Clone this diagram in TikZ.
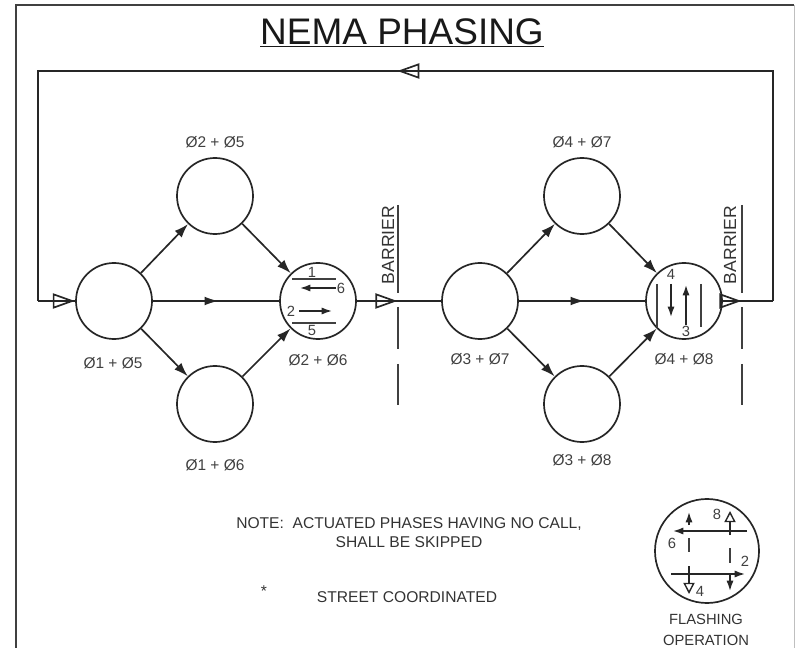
\documentclass[tikz,border=0pt]{standalone}
\usepackage{fontspec}
\setmainfont{Liberation Sans}
\usetikzlibrary{arrows.meta,decorations.markings}
\tikzset{
  phase/.style={draw=black!85,circle,line width=1.2pt,minimum size=1.9cm,inner sep=0pt},
  flash/.style={draw=black!85,circle,line width=1.2pt,minimum size=2.6cm,inner sep=0pt},
  wire/.style={draw=black!85,line width=1.2pt},
  openmid/.style={postaction={decorate},decoration={markings,mark=at position #1 with {\arrow[black!85,line width=1.2pt]{Triangle[open,length=5.5mm,width=3.8mm]}}}},
  solidmid/.style={postaction={decorate},decoration={markings,mark=at position #1 with {\arrow[black!85]{Latex[length=3.5mm,width=2.2mm]}}}},
  thin tip/.style={draw=black!85,line width=1.1pt,-{Latex[length=2.6mm,width=1.8mm]}},
  open tip/.style={draw=black!85,line width=1pt,-{Triangle[open,length=2.8mm,width=2.8mm]}},
  bar/.style={draw=black!75,line width=1.2pt},
  phlabel/.style={font=\fontsize{11}{13}\selectfont,text=black!75,inner sep=0pt},
  digit/.style={font=\fontsize{10.5}{12}\selectfont,text=black!75,inner sep=0pt},
  note/.style={font=\fontsize{11.1}{13.4}\selectfont,text=black!80,align=center,inner sep=0pt}
}
\begin{document}
\begin{tikzpicture}[>=Latex,x=0.025cm,y=-0.025cm]
\useasboundingbox (0,0) rectangle (795,648);
% frame
\coordinate (fa) at (16,648);
\coordinate (fb) at (16,5);
\coordinate (fc) at (794,5);
\coordinate (fd) at (794,648);
\draw[wire,black!75] (fa)--(fb)--(fc);
\draw[black!25,line width=0.6pt] (fc)--(fd);
\node[font=\fontsize{26.3}{30}\selectfont,text=black!90,inner sep=0pt] (title) at (402,33) {\underline{NEMA PHASING}};
% left group
\node[phase] (p15) at (114,301) {};
\node[phase] (p25) at (215,196) {};
\node[phase] (p16) at (215,404) {};
\node[phase] (p26) at (318,301) {};
% right group
\node[phase] (p37) at (480,301) {};
\node[phase] (p47) at (582,196) {};
\node[phase] (p38) at (582,404) {};
\node[phase] (p48) at (684,301) {};
\node[flash] (fl) at (707,551) {};
% phase labels
\node[phlabel] (l15) at (113,363) {Ø1 + Ø5};
\node[phlabel] (l25) at (215,142) {Ø2 + Ø5};
\node[phlabel] (l16) at (215,465) {Ø1 + Ø6};
\node[phlabel] (l26) at (318,360) {Ø2 + Ø6};
\node[phlabel] (l37) at (480,359) {Ø3 + Ø7};
\node[phlabel] (l47) at (582,142) {Ø4 + Ø7};
\node[phlabel] (l38) at (582,460) {Ø3 + Ø8};
\node[phlabel] (l48) at (684,359) {Ø4 + Ø8};
% connectors
\foreach \a/\b in {p15/p25,p15/p16,p25/p26,p16/p26,p37/p47,p37/p38,p47/p48,p38/p48}
  \draw[wire,-{Latex[length=3.5mm,width=2.4mm]}] (\a)--(\b);
\draw[wire,solidmid=0.52] (p15)--(p26);
\draw[wire,solidmid=0.52] (p37)--(p48);
\draw[wire,openmid=0.48] (p26)--(p37);
% return loop
\coordinate (ra) at (773,301);
\coordinate (rb) at (773,71);
\coordinate (rc) at (38,71);
\coordinate (rd) at (38,301);
\coordinate (rm) at (435,71);
\draw[wire,openmid=0.37] (p48)--(ra);
\draw[wire] (ra)--(rb)--(rm);
\draw[wire,openmid=0.06] (rm)--(rc)--(rd);
\draw[wire,openmid=0.99] (rd)--(p15);
% barriers
\node[rotate=90,font=\fontsize{12.5}{14}\selectfont,text=black!80,inner sep=0pt] (b1) at (388,245) {BARRIER};
\node[rotate=90,font=\fontsize{12.5}{14}\selectfont,text=black!80,inner sep=0pt] (b2) at (730,245) {BARRIER};
\foreach \x/\n in {398/ba,742/bb}{
  \coordinate (\n1) at (\x,205); \coordinate (\n2) at (\x,293);
  \coordinate (\n3) at (\x,307); \coordinate (\n4) at (\x,349);
  \coordinate (\n5) at (\x,364); \coordinate (\n6) at (\x,405);
  \draw[bar] (\n1)--(\n2); \draw[bar] (\n3)--(\n4); \draw[bar] (\n5)--(\n6);
}
% inside phi 2 + phi 6
\coordinate (c1) at (292,279); \coordinate (c2) at (336,279);
\coordinate (c3) at (336,288); \coordinate (c4) at (300,288);
\coordinate (c5) at (299,311); \coordinate (c6) at (332,311);
\coordinate (c7) at (292,323); \coordinate (c8) at (336,323);
\draw[bar] (c1)--(c2);
\draw[thin tip] (c3)--(c4);
\draw[thin tip] (c5)--(c6);
\draw[bar] (c7)--(c8);
\node[digit] (d1) at (312,272) {1};
\node[digit] (d6) at (341,288) {6};
\node[digit] (d2) at (291,311) {2};
\node[digit] (d5) at (312,330) {5};
% inside phi 4 + phi 8
\coordinate (e1) at (657,284); \coordinate (e2) at (657,327);
\coordinate (e3) at (671,284); \coordinate (e4) at (671,317);
\coordinate (e5) at (686,325); \coordinate (e6) at (686,285);
\coordinate (e7) at (701,284); \coordinate (e8) at (701,327);
\draw[bar] (e1)--(e2);
\draw[thin tip] (e3)--(e4);
\draw[thin tip] (e5)--(e6);
\draw[bar] (e7)--(e8);
\node[digit] (d4) at (671,274) {4};
\node[digit] (d3) at (686,331) {3};
% flashing
\coordinate (g1) at (747,531); \coordinate (g2) at (673,531);
\coordinate (g3) at (671,574); \coordinate (g4) at (745,574);
\draw[thin tip] (g1)--(g2);
\draw[thin tip] (g3)--(g4);
\coordinate (h1) at (689,525); \coordinate (h2) at (689,512);
\coordinate (h3) at (689,538); \coordinate (h4) at (689,552);
\coordinate (h5) at (689,566); \coordinate (h6) at (689,594);
\draw[thin tip] (h1)--(h2);
\draw[bar] (h3)--(h4);
\draw[open tip] (h5)--(h6);
\coordinate (i1) at (730,535); \coordinate (i2) at (730,511);
\coordinate (i3) at (730,548); \coordinate (i4) at (730,563);
\coordinate (i5) at (730,575); \coordinate (i6) at (730,591);
\draw[open tip] (i1)--(i2);
\draw[bar] (i3)--(i4);
\draw[thin tip] (i5)--(i6);
\node[digit] (f8) at (717,514) {8};
\node[digit] (f6) at (672,543) {6};
\node[digit] (f2) at (745,561) {2};
\node[digit] (f4) at (700,591) {4};
\node[note,font=\fontsize{10.5}{14.5}\selectfont] (fltext) at (706,630) {FLASHING\\OPERATION};
% notes
\node[note] (n1) at (409,533) {NOTE:\ \ ACTUATED PHASES HAVING NO CALL,\\SHALL BE SKIPPED};
\node[note] (n2) at (264,591) {*};
\node[note] (n3) at (407,597) {STREET COORDINATED};
\end{tikzpicture}
\end{document}
